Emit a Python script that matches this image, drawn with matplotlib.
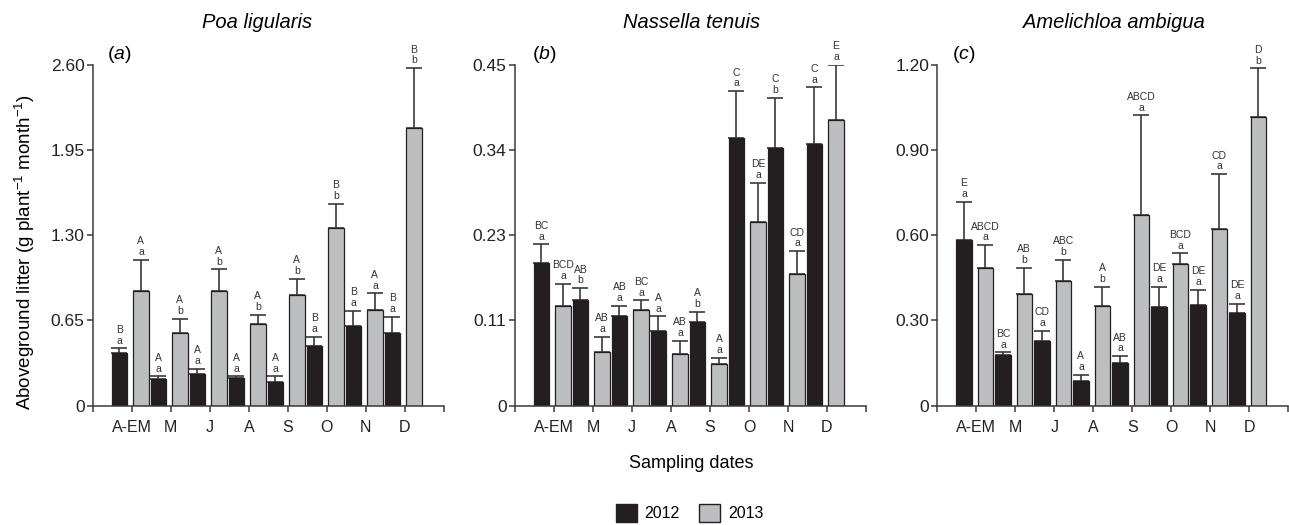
import matplotlib
matplotlib.use("Agg")
import matplotlib.pyplot as plt
from matplotlib.patches import Patch
import numpy as np

plt.rcParams["font.family"] = ["Liberation Sans", "DejaVu Sans"]
plt.rcParams["mathtext.fontset"] = "custom"
plt.rcParams["mathtext.rm"] = "Liberation Sans"
plt.rcParams["mathtext.it"] = "Liberation Sans:italic"

# Fechas de muestreo
months = ["A-EM", "M", "J", "A", "S", "O", "N", "D"]
species = ["Poa ligularis", "Nassella tenuis", "Amelichloa ambigua"]
panel_tags = ["a", "b", "c"]

# Poa ligularis
poa_2012 = [0.404, 0.201, 0.242, 0.211, 0.181, 0.455, 0.608, 0.557]
poa_2012_se = [0.033, 0.023, 0.040, 0.013, 0.043, 0.071, 0.117, 0.122]
poa_2013 = [0.875, 0.557, 0.875, 0.625, 0.842, 1.357, 0.730, 2.120]
poa_2013_se = [0.236, 0.104, 0.165, 0.067, 0.124, 0.181, 0.127, 0.453]
poa_2012_let = ["B\na", "A\na", "A\na", "A\na", "A\na", "B\na", "B\na", "B\na"]
poa_2013_let = ["A\na", "A\nb", "A\nb", "A\nb", "A\nb", "B\nb", "A\na", "B\nb"]

# Nassella tenuis
nas_2012 = [0.188, 0.139, 0.119, 0.098, 0.110, 0.353, 0.340, 0.345]
nas_2012_se = [0.025, 0.016, 0.013, 0.020, 0.014, 0.062, 0.066, 0.075]
nas_2013 = [0.132, 0.071, 0.126, 0.068, 0.055, 0.243, 0.174, 0.377]
nas_2013_se = [0.029, 0.020, 0.013, 0.018, 0.008, 0.051, 0.030, 0.073]
nas_2012_let = ["BC\na", "AB\nb", "AB\na", "A\na", "A\nb", "C\na", "C\nb", "C\na"]
nas_2013_let = ["BCD\na", "AB\na", "BC\na", "AB\na", "A\na", "DE\na", "CD\na", "E\na"]

# Amelichloa ambigua
ame_2012 = [0.583, 0.177, 0.228, 0.087, 0.149, 0.346, 0.355, 0.326]
ame_2012_se = [0.134, 0.011, 0.035, 0.021, 0.025, 0.073, 0.053, 0.032]
ame_2013 = [0.483, 0.393, 0.440, 0.351, 0.670, 0.499, 0.623, 1.016]
ame_2013_se = [0.082, 0.092, 0.073, 0.068, 0.352, 0.037, 0.192, 0.171]
ame_2012_let = ["E\na", "BC\na", "CD\na", "A\na", "AB\na", "DE\na", "DE\na", "DE\na"]
ame_2013_let = ["ABCD\na", "AB\nb", "ABC\nb", "A\nb", "ABCD\na", "BCD\na", "CD\na", "D\nb"]

y_max = [2.60, 0.45, 1.20]
y_ticklabels = [["0", "0.65", "1.30", "1.95", "2.60"],
                ["0", "0.11", "0.23", "0.34", "0.45"],
                ["0", "0.30", "0.60", "0.90", "1.20"]]

panels = [
    (poa_2012, poa_2012_se, poa_2013, poa_2013_se, poa_2012_let, poa_2013_let),
    (nas_2012, nas_2012_se, nas_2013, nas_2013_se, nas_2012_let, nas_2013_let),
    (ame_2012, ame_2012_se, ame_2013, ame_2013_se, ame_2012_let, ame_2013_let),
]

c_black = "#231f20"
c_gray = "#bcbec0"
c_line = "#3a3a3a"

fig = plt.figure(figsize=(12.89, 5.25), dpi=100)
lefts = [0.0721, 0.3995, 0.7272]
title_x = [0.1998, 0.5366, 0.8642]
tag_x = [0.040, 0.048, 0.041]
x = np.arange(1, len(months) + 1)
w = 0.40

for i, (v12, e12, v13, e13, l12, l13) in enumerate(panels):
    ax = fig.add_axes([lefts[i], 0.2272, 0.2723, 0.6495])
    for xs, vals, errs, col, labs in [(x - 0.32, v12, e12, c_black, l12),
                                      (x + 0.23, v13, e13, c_gray, l13)]:
        ax.bar(xs, vals, width=w, color=col, edgecolor=c_black, linewidth=0.9, zorder=2)
        ax.errorbar(xs, vals, yerr=[np.zeros(len(vals)), errs], fmt="none",
                    ecolor=c_line, elinewidth=1.2, capsize=6, capthick=1.2, zorder=1)
        for xx, vv, ee, lab in zip(xs, vals, errs, labs):
            ax.annotate(lab, (xx, vv + ee), xytext=(0, 2), textcoords="offset points",
                        ha="center", va="bottom", fontsize=7.5, color="#333333",
                        linespacing=1.1, annotation_clip=False)
    ax.set_xlim(0, 9)
    ax.set_ylim(0, y_max[i])
    ax.set_xticks(np.arange(0, 10))
    ax.set_xticklabels([""] + months + [""], fontsize=11.5)
    ax.set_yticks(np.linspace(0, y_max[i], 5))
    ax.set_yticklabels(y_ticklabels[i], fontsize=12.5)
    ax.spines["top"].set_visible(False)
    ax.spines["right"].set_visible(False)
    for s in ["left", "bottom"]:
        ax.spines[s].set_color(c_line)
        ax.spines[s].set_linewidth(1.1)
    ax.tick_params(direction="out", length=4, width=1.1, color=c_line, colors="#222222")
    ax.tick_params(axis="y", pad=2)
    ax.tick_params(axis="x", pad=6)
    ax.text(tag_x[i], 1.03, "($\\it{%s}$)" % panel_tags[i], transform=ax.transAxes,
            fontsize=14, ha="left", va="center")
    fig.text(title_x[i], 0.958, species[i], fontsize=14.5, style="italic",
             ha="center", va="center")

fig.text(0.0194, 0.52, "Aboveground litter (g plant$^{-1}$ month$^{-1}$)",
         rotation=90, ha="center", va="center", fontsize=13.5)
fig.text(0.5366, 0.118, "Sampling dates", ha="center", va="center", fontsize=13)

handles = [Patch(facecolor=c_black, edgecolor=c_black, label="2012"),
           Patch(facecolor=c_gray, edgecolor=c_black, label="2013")]
fig.legend(handles=handles, loc="center", bbox_to_anchor=(0.535, 0.023), ncol=2,
           frameon=False, fontsize=11.5, handlelength=1.3, handleheight=1.3,
           columnspacing=1.2, handletextpad=0.5)

fig.savefig("out.png", dpi=100)
